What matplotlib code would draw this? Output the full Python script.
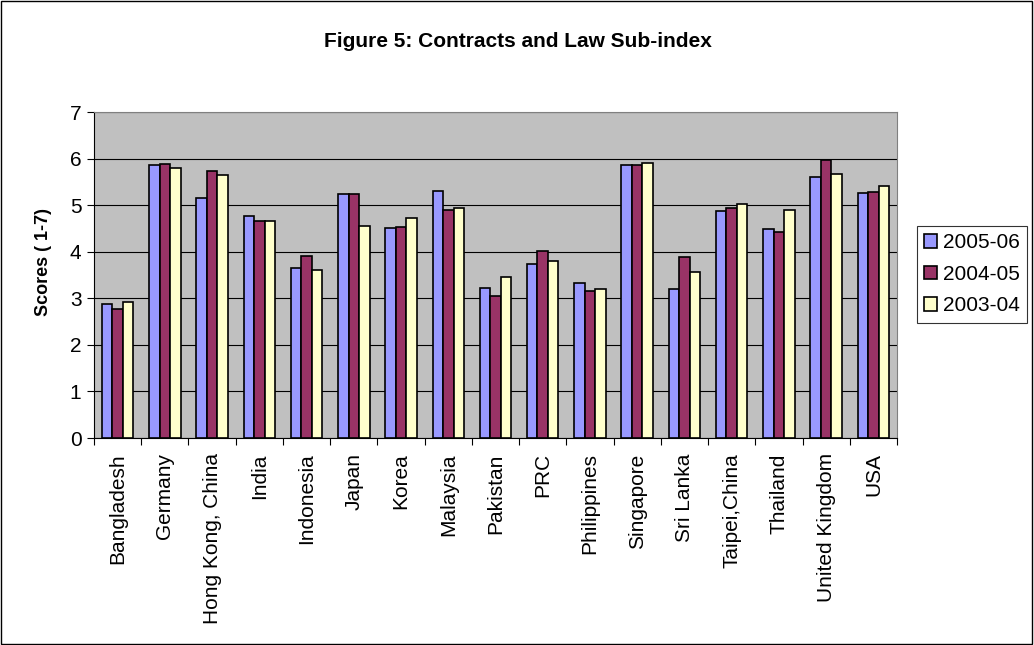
import numpy as np
import matplotlib.pyplot as plt
from matplotlib.patches import Rectangle

plt.rcParams['font.family'] = ['Liberation Sans', 'DejaVu Sans']

countries = ['Bangladesh', 'Germany', 'Hong Kong, China', 'India', 'Indonesia',
             'Japan', 'Korea', 'Malaysia', 'Pakistan', 'PRC', 'Philippines',
             'Singapore', 'Sri Lanka', 'Taipei,China', 'Thailand',
             'United Kingdom', 'USA']
s2005 = [2.88, 5.87, 5.16, 4.77, 3.66, 5.23, 4.52, 5.30, 3.22, 3.74, 3.32,
         5.87, 3.21, 4.87, 4.48, 5.61, 5.27]
s2004 = [2.76, 5.89, 5.73, 4.67, 3.91, 5.25, 4.54, 4.90, 3.05, 4.02, 3.16,
         5.86, 3.88, 4.95, 4.42, 5.96, 5.28]
s2003 = [2.93, 5.80, 5.65, 4.65, 3.61, 4.56, 4.72, 4.95, 3.46, 3.81, 3.20,
         5.90, 3.56, 5.03, 4.89, 5.67, 5.41]
series = [('2005-06', s2005, '#9999FF'),
          ('2004-05', s2004, '#993366'),
          ('2003-04', s2003, '#FFFFCC')]

fig = plt.figure(figsize=(10.34, 6.45), dpi=100)
ax = fig.add_axes([0.0909, 0.3209, 0.7766, 0.5054])
ax.set_facecolor('#C0C0C0')

x = np.arange(len(countries))
w = 1 / 4.5
for i, (name, vals, col) in enumerate(series):
    ax.bar(x + (i - 1) * w, vals, w, color=col, edgecolor='black',
           linewidth=1.2, label=name, zorder=3)

ax.set_xlim(-0.5, len(countries) - 0.5)
ax.set_ylim(0, 7)
ax.set_yticks(range(8))
ax.yaxis.grid(True, color='black', linewidth=0.8, zorder=0)
ax.set_axisbelow(True)
# category boundaries get the tick marks, labels sit at the centres
ax.set_xticks(np.arange(len(countries) + 1) - 0.5)
ax.set_xticklabels([])
ax.set_xticks(x, minor=True)
ax.set_xticklabels(countries, rotation=90, minor=True, fontsize=15)
ax.tick_params(axis='x', which='minor', length=0, pad=11)
ax.tick_params(axis='x', which='major', length=5, direction='out')
ax.tick_params(axis='y', labelsize=15, length=5, pad=4)
for side in ['top', 'right']:
    ax.spines[side].set_color('#808080')

fig.text(0.0416, 0.594, 'Scores ( 1-7)', rotation=90, ha='center', va='center',
         fontsize=13, fontweight='bold')
fig.text(0.501, 0.936, 'Figure 5: Contracts and Law Sub-index',
         ha='center', va='center', fontsize=15, fontweight='bold')

leg = fig.legend(loc='upper left', bbox_to_anchor=(0.887, 0.6496),
                 fontsize=15, frameon=True, fancybox=False, edgecolor='black',
                 handlelength=0.6, handleheight=0.6, handletextpad=0.3,
                 borderpad=0.35, borderaxespad=0, labelspacing=0.6)
leg.get_frame().set_linewidth(0.8)

fig.patches.append(Rectangle((0.001, 0.002), 0.997, 0.996, transform=fig.transFigure,
                             fill=False, edgecolor='black', linewidth=1))

fig.savefig('out.png', dpi=100)
